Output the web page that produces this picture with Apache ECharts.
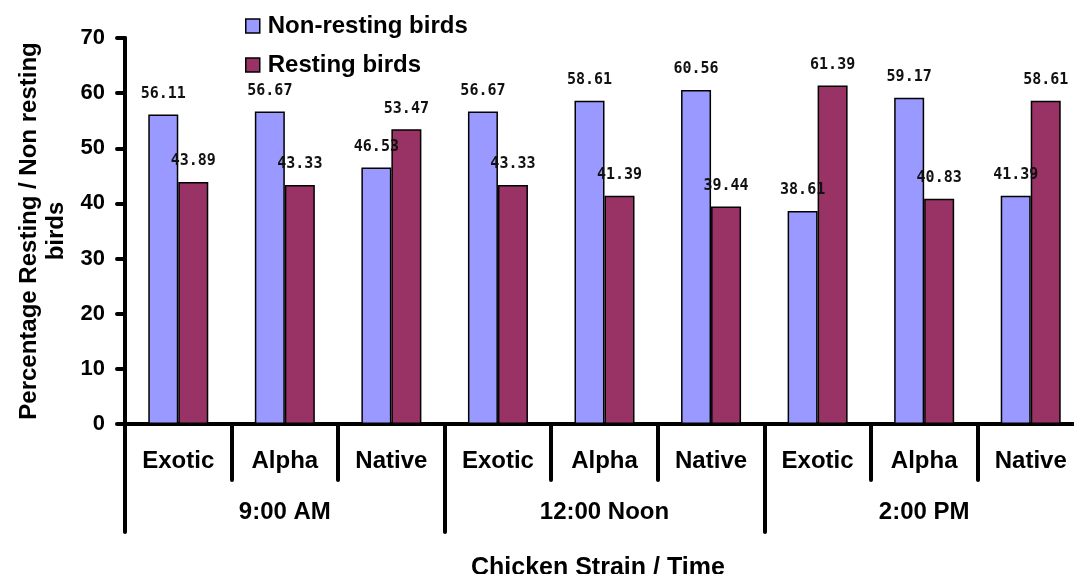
<!DOCTYPE html>
<html>
<head>
<meta charset="utf-8">
<script src="https://cdn.jsdelivr.net/npm/echarts@6/dist/echarts.min.js"></script>
<style>
  html, body { margin: 0; padding: 0; background: #fff; overflow: hidden; }
  /* the last category runs slightly past the visible edge */
  #chart { width: 1084px; height: 574px; }
</style>
</head>
<body>
<div id="chart"></div>
<script>
// Strain per bar group, and the time slot each set of three strains belongs to
const strains = ['Exotic', 'Alpha', 'Native', 'Exotic', 'Alpha', 'Native', 'Exotic', 'Alpha', 'Native'];
const times = ['9:00 AM', '12:00 Noon', '2:00 PM'];

// Percentages of birds
const nonResting = [56.11, 56.67, 46.53, 56.67, 58.61, 60.56, 38.61, 59.17, 41.39];
const resting = [43.89, 43.33, 53.47, 43.33, 41.39, 39.44, 61.39, 40.83, 58.61];

const seriesNames = ['Non-resting birds', 'Resting birds'];
const yTitle = 'Percentage Resting / Non resting\nbirds';
const xTitle = 'Chicken Strain / Time';

const FONT = '"Liberation Sans", Arial, sans-serif';
const LABEL_FONT = '"DejaVu Sans Mono", monospace';

const chart = echarts.init(document.getElementById('chart'), null, { renderer: 'canvas' });

const barLabel = {
  show: true,
  position: 'top',
  distance: 13,
  color: '#111',
  fontFamily: LABEL_FONT,
  fontWeight: 'bold',
  fontSize: 15,
  formatter: p => p.value.toFixed(2)
};

const thick = { color: '#000', width: 4, cap: 'round' };

chart.setOption({
  animation: false,
  textStyle: { fontFamily: FONT },
  grid: { left: 125, right: 0, top: 38, bottom: 150, containLabel: false },
  legend: {
    orient: 'vertical',
    left: 245,
    top: 14,
    padding: 0,
    itemWidth: 14,
    itemHeight: 14,
    itemGap: 15,
    icon: 'rect',
    itemStyle: { borderColor: '#000', borderWidth: 1.5 },
    textStyle: { fontFamily: FONT, fontWeight: 'bold', fontSize: 24, color: '#000', padding: [0, 0, 0, 3] },
    data: seriesNames
  },
  xAxis: [
    {
      type: 'category',
      data: strains,
      position: 'bottom',
      axisLine: { show: true, lineStyle: thick },
      axisTick: { show: true, length: 56, interval: 0, lineStyle: thick },
      axisLabel: { interval: 0, margin: 25, fontFamily: FONT, fontWeight: 'bold', fontSize: 24, color: '#000' }
    },
    {
      type: 'category',
      data: times,
      position: 'bottom',
      axisLine: { show: false },
      axisTick: { show: true, length: 108, interval: 0, lineStyle: thick },
      axisLabel: { interval: 0, margin: 76, fontFamily: FONT, fontWeight: 'bold', fontSize: 24, color: '#000' }
    }
  ],
  yAxis: {
    type: 'value',
    min: 0,
    max: 70,
    interval: 10,
    name: yTitle,
    nameLocation: 'middle',
    nameRotate: 90,
    nameGap: 45,
    nameTextStyle: { fontFamily: FONT, fontWeight: 'bold', fontSize: 24, color: '#000', lineHeight: 27, align: 'center' },
    axisLine: { show: true, lineStyle: thick },
    axisTick: { show: true, length: 8, lineStyle: thick },
    splitLine: { show: false },
    axisLabel: { margin: 20, fontFamily: FONT, fontWeight: 'bold', fontSize: 22, color: '#000' }
  },
  series: [
    {
      name: seriesNames[0],
      type: 'bar',
      xAxisIndex: 0,
      data: nonResting,
      barWidth: 30,
      barGap: '0%',
      itemStyle: { color: '#9999FF', borderColor: '#000', borderWidth: 1.5 },
      label: barLabel
    },
    {
      name: seriesNames[1],
      type: 'bar',
      xAxisIndex: 0,
      data: resting,
      barWidth: 30,
      barGap: '0%',
      itemStyle: { color: '#993366', borderColor: '#000', borderWidth: 1.5 },
      label: barLabel
    }
  ],
  graphic: [
    {
      type: 'text',
      left: 471,
      top: 556,
      style: { text: xTitle, fill: '#000', font: 'bold 25px ' + FONT }
    }
  ]
});
</script>
</body>
</html>
